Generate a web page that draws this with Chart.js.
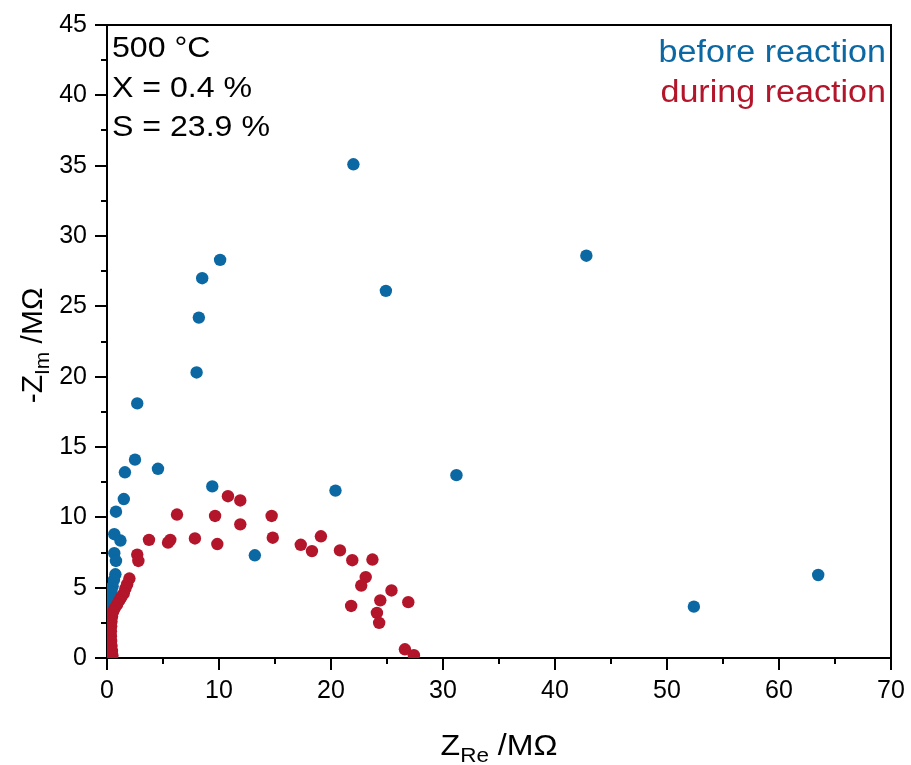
<!DOCTYPE html>
<html><head><meta charset="utf-8">
<script src="https://cdn.jsdelivr.net/npm/chart.js@4.4.0/dist/chart.umd.min.js"></script>
<style>html,body{margin:0;padding:0;background:#fff;overflow:hidden}canvas{display:block}</style>
</head><body>
<canvas id="c" width="911" height="765"></canvas>
<script>
// ---- data ----
const seriesNames = ['before reaction', 'during reaction'];
const beforeX = [22.0, 42.8, 10.1, 8.5, 8.2, 24.9, 8.0, 2.7, 2.5, 4.55, 1.6, 31.2, 1.5, 9.4, 20.4, 0.8, 0.65, 1.2, 0.65, 0.8, 13.2, 63.5, 52.4, 0.75, 0.62, 0.5, 0.4, 0.32, 0.25, 0.2];
const beforeY = [35.1, 28.6, 28.3, 27.0, 24.2, 26.1, 20.3, 18.1, 14.1, 13.45, 13.2, 13.0, 11.3, 12.2, 11.9, 10.4, 8.8, 8.35, 7.45, 6.9, 7.3, 5.9, 3.65, 5.95, 5.55, 5.1, 4.7, 4.25, 3.8, 3.3];
const duringX = [10.8, 11.9, 6.25, 9.65, 14.7, 11.9, 14.8, 3.75, 5.65, 5.45, 7.85, 9.85, 2.7, 2.8, 17.3, 18.3, 19.1, 20.8, 21.9, 23.7, 23.1, 22.7, 21.8, 25.4, 24.4, 26.9, 24.1, 24.3, 26.6, 27.4,
                 2.0, 1.8, 1.65, 1.5, 1.3, 1.1, 0.9, 0.7, 0.55, 0.45, 0.4, 0.37, 0.35, 0.35, 0.37, 0.4, 0.44, 0.48];
const duringY = [11.5, 11.2, 10.2, 10.1, 10.1, 9.5, 8.55, 8.4, 8.4, 8.2, 8.5, 8.1, 7.35, 6.9, 8.05, 7.6, 8.65, 7.65, 6.95, 7.0, 5.75, 5.15, 3.7, 4.8, 4.1, 3.97, 3.2, 2.5, 0.62, 0.2,
                 5.65, 5.25, 4.95, 4.6, 4.35, 4.1, 3.8, 3.55, 3.3, 2.95, 2.6, 2.25, 1.9, 1.55, 1.2, 0.85, 0.5, 0.18];
const xTickLabels = [0, 10, 20, 30, 40, 50, 60, 70];
const yTickLabels = [0, 5, 10, 15, 20, 25, 30, 35, 40, 45];
const annotationLines = ['500 °C', 'X = 0.4 %', 'S = 23.9 %'];
const xTitleParts = [['Z', 0], ['Re', 1], [' /MΩ', 0]];
const yTitleParts = [['-Z', 0], ['Im', 1], [' /MΩ', 0]];

// ---- style ----
const BLUE = '#0b68a2', RED = '#b3152b';
const FONT = '"Liberation Sans", Arial, sans-serif';

function drawRich(ctx, parts, size, subSize, subDy, align) {
  let w = 0;
  parts.forEach(p => { ctx.font = (p[1] ? subSize : size) + 'px ' + FONT; w += ctx.measureText(p[0]).width; });
  let cx = align === 'center' ? -w / 2 : 0;
  parts.forEach(p => {
    ctx.font = (p[1] ? subSize : size) + 'px ' + FONT;
    ctx.fillText(p[0], cx, p[1] ? subDy : 0);
    cx += ctx.measureText(p[0]).width;
  });
}

const decor = {
  id: 'decor',
  beforeDatasetsDraw(chart) {
    const { ctx, chartArea: a, scales: { x, y } } = chart;
    ctx.save();
    ctx.strokeStyle = '#000';
    ctx.lineWidth = 2;
    ctx.strokeRect(a.left, a.top, a.right - a.left, a.bottom - a.top);
    ctx.beginPath();
    xTickLabels.forEach((v, i) => {
      const px = Math.round(x.getPixelForValue(v));
      ctx.moveTo(px, a.bottom); ctx.lineTo(px, a.bottom + 12);
      if (i < xTickLabels.length - 1) {
        const m = Math.round(x.getPixelForValue((v + xTickLabels[i + 1]) / 2));
        ctx.moveTo(m, a.bottom); ctx.lineTo(m, a.bottom + 6);
      }
    });
    yTickLabels.forEach((v, i) => {
      const py = Math.round(y.getPixelForValue(v));
      ctx.moveTo(a.left, py); ctx.lineTo(a.left - 12, py);
      if (i < yTickLabels.length - 1) {
        const m = Math.round(y.getPixelForValue((v + yTickLabels[i + 1]) / 2));
        ctx.moveTo(a.left, m); ctx.lineTo(a.left - 6, m);
      }
    });
    ctx.stroke();
    ctx.restore();
  },
  afterDraw(chart) {
    const { ctx, chartArea: a } = chart;
    ctx.save();
    ctx.fillStyle = '#000';
    ctx.textBaseline = 'alphabetic';
    // annotation
    const baselines = [57, 97, 136];
    annotationLines.forEach((t, i) => {
      ctx.save();
      ctx.translate(a.left + 5, baselines[i]);
      ctx.scale(1.07, 1);
      ctx.font = '30px ' + FONT;
      ctx.textAlign = 'left';
      ctx.fillText(t, 0, 0);
      ctx.restore();
    });
    // legend (text only)
    const lb = [62, 102];
    chart.data.datasets.forEach((ds, i) => {
      ctx.save();
      ctx.translate(a.right - 5, lb[i]);
      ctx.scale(1.1, 1);
      ctx.font = '31px ' + FONT;
      ctx.textAlign = 'right';
      ctx.fillStyle = ds.backgroundColor;
      ctx.fillText(ds.label, 0, 0);
      ctx.restore();
    });
    // x title
    ctx.save();
    ctx.translate((a.left + a.right) / 2, 755);
    ctx.scale(1.07, 1);
    ctx.textAlign = 'left';
    drawRich(ctx, xTitleParts, 30, 21, 7, 'center');
    ctx.restore();
    // y title
    ctx.save();
    ctx.translate(42, (a.top + a.bottom) / 2 + 4);
    ctx.rotate(-Math.PI / 2);
    ctx.textAlign = 'left';
    drawRich(ctx, yTitleParts, 30, 21, 7, 'center');
    ctx.restore();
    ctx.restore();
  }
};

const toPts = (xs, ys) => xs.map((v, i) => ({ x: v, y: ys[i] }));

new Chart(document.getElementById('c'), {
  type: 'scatter',
  data: {
    datasets: [
      { label: seriesNames[0], data: toPts(beforeX, beforeY), backgroundColor: BLUE, borderColor: BLUE,
        pointRadius: 6.2, pointBorderWidth: 0, order: 2 },
      { label: seriesNames[1], data: toPts(duringX, duringY), backgroundColor: RED, borderColor: RED,
        pointRadius: 6.2, pointBorderWidth: 0, order: 1 }
    ]
  },
  options: {
    responsive: false,
    animation: false,
    devicePixelRatio: 1,
    layout: { padding: { top: 25, right: 20, left: 0, bottom: 0 } },
    plugins: { legend: { display: false }, tooltip: { enabled: false } },
    scales: {
      x: {
        type: 'linear', min: 0, max: 70,
        afterFit(s) { s.height = 107; s.paddingLeft = 0; s.paddingRight = 0; },
        afterBuildTicks(s) { s.ticks = xTickLabels.map(v => ({ value: v })); },
        grid: { display: false, drawTicks: false },
        border: { display: false },
        ticks: { font: { family: FONT, size: 25 }, color: '#000', padding: 18, maxRotation: 0, autoSkip: false }
      },
      y: {
        type: 'linear', min: 0, max: 45,
        afterFit(s) { s.width = 107; s.paddingTop = 0; s.paddingBottom = 0; },
        afterBuildTicks(s) { s.ticks = yTickLabels.map(v => ({ value: v })); },
        grid: { display: false, drawTicks: false },
        border: { display: false },
        ticks: { font: { family: FONT, size: 25 }, color: '#000', padding: 20, autoSkip: false }
      }
    }
  },
  plugins: [decor]
});
</script>
</body></html>
